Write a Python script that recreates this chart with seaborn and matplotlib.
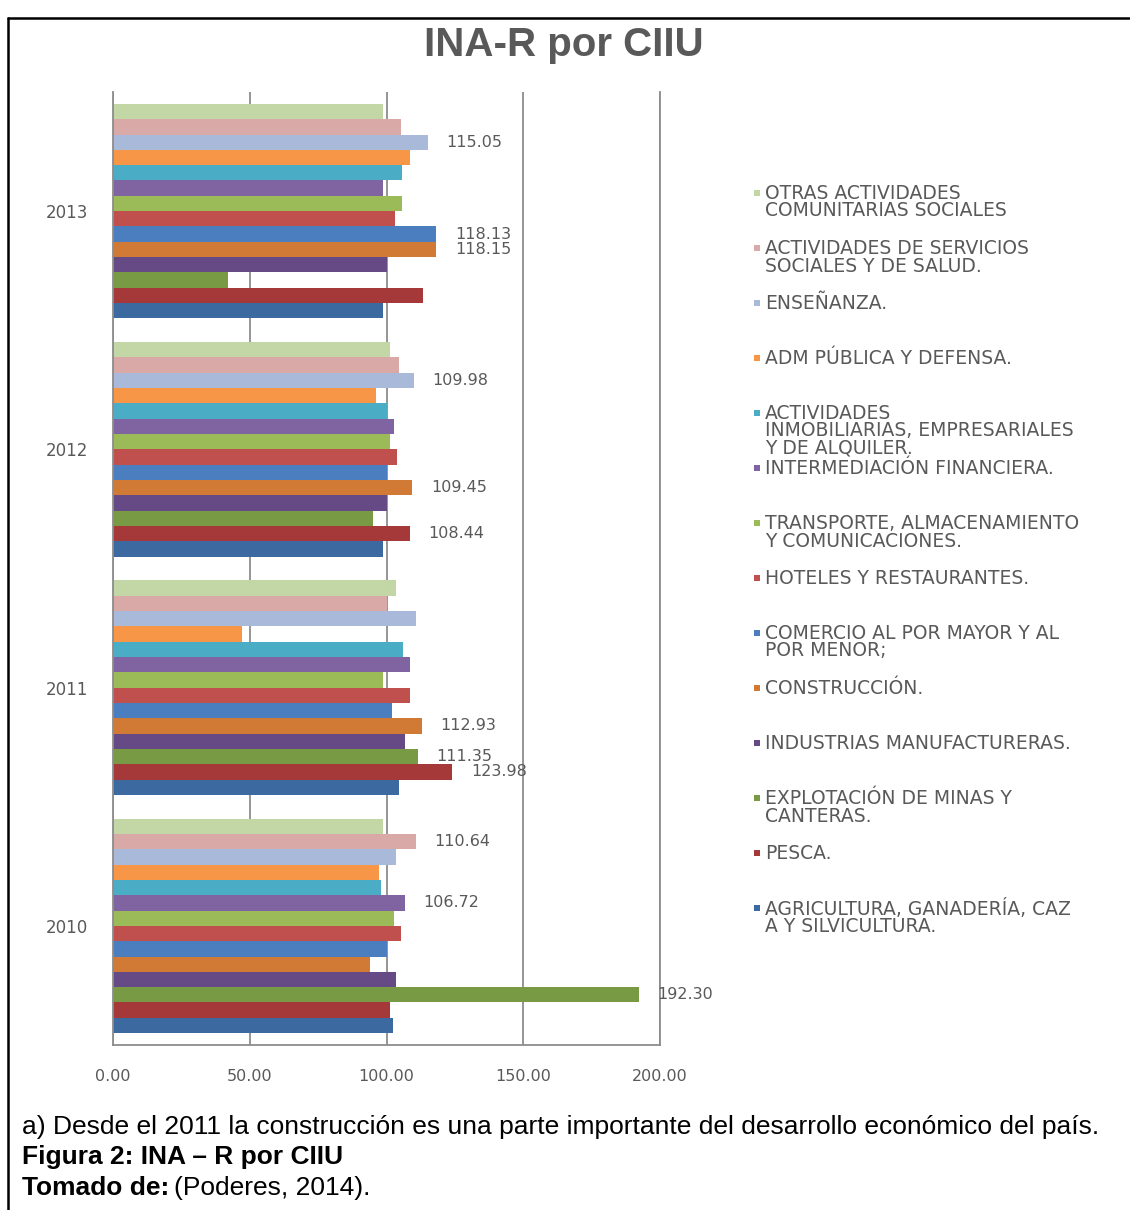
import matplotlib
matplotlib.use("Agg")
import matplotlib.pyplot as plt
from matplotlib.patches import Rectangle
from matplotlib.lines import Line2D
import numpy as np
import pandas as pd
import seaborn as sns

# ---------------------------------------------------------------- data
years = ["2010", "2011", "2012", "2013"]

# sector names (legend text, wrapped as printed), listed top to bottom
sectors = [
    "OTRAS ACTIVIDADES\nCOMUNITARIAS SOCIALES",
    "ACTIVIDADES DE SERVICIOS\nSOCIALES Y DE SALUD.",
    "ENSEÑANZA.",
    "ADM PÚBLICA Y DEFENSA.",
    "ACTIVIDADES\nINMOBILIARIAS, EMPRESARIALES\nY DE ALQUILER.",
    "INTERMEDIACIÓN FINANCIERA.",
    "TRANSPORTE, ALMACENAMIENTO\nY COMUNICACIONES.",
    "HOTELES Y RESTAURANTES.",
    "COMERCIO AL POR MAYOR Y AL\nPOR MENOR;",
    "CONSTRUCCIÓN.",
    "INDUSTRIAS MANUFACTURERAS.",
    "EXPLOTACIÓN DE MINAS Y\nCANTERAS.",
    "PESCA.",
    "AGRICULTURA, GANADERÍA, CAZ\nA Y SILVICULTURA.",
]

# INA-R values per sector, in the order of `years`
otras          = [98.8, 103.5, 101.3, 98.7]
serv_sociales  = [110.64, 100.3, 104.4, 105.3]
ensenanza      = [103.6, 110.8, 109.98, 115.05]
adm_publica    = [97.3, 47.0, 96.2, 108.6]
inmobiliarias  = [98.1, 106.2, 100.0, 105.5]
intermediacion = [106.72, 108.6, 102.9, 98.8]
transporte     = [102.9, 98.8, 101.3, 105.5]
hoteles        = [105.3, 108.6, 103.7, 103.1]
comercio       = [100.3, 102.1, 100.0, 118.13]
construccion   = [94.1, 112.93, 109.45, 118.15]
industrias     = [103.6, 106.8, 100.3, 100.3]
minas          = [192.30, 111.35, 94.9, 42.2]
pesca          = [101.1, 123.98, 108.44, 113.2]
agricultura    = [102.2, 104.6, 98.8, 98.8]

series = [otras, serv_sociales, ensenanza, adm_publica, inmobiliarias,
          intermediacion, transporte, hoteles, comercio, construccion,
          industrias, minas, pesca, agricultura]

colors = ["#C3D6A6", "#D9A9A8", "#A8B9DA", "#F79646", "#4BACC6",
          "#8064A2", "#9BBB59", "#C0504D", "#4A7EBF", "#D07A35",
          "#654A86", "#789A45", "#A5393A", "#3C6AA0"]

# bars carrying a value label: (year, sector index)
labelled = [("2013", 2), ("2013", 8), ("2013", 9),
            ("2012", 2), ("2012", 9), ("2012", 12),
            ("2011", 9), ("2011", 11), ("2011", 12),
            ("2010", 1), ("2010", 5), ("2010", 11)]

x_ticks = [0, 50, 100, 150, 200]

rows = []
for name, vals in zip(sectors, series):
    for y, v in zip(years, vals):
        rows.append({"anio": y, "sector": name, "valor": v})
df = pd.DataFrame(rows)

# ---------------------------------------------------------------- layout
W, H = 1130, 1210
sns.set_theme(style="white")
plt.rcParams["font.family"] = ["DejaVu Sans"]

fig = plt.figure(figsize=(W / 100, H / 100), dpi=100)
fig.patch.set_facecolor("white")


def fx(px):
    return px / W


def fy(py):
    return 1 - py / H


ax = fig.add_axes([fx(113), fy(1045), fx(660) - fx(113), fy(92) - fy(1045)])

sns.barplot(data=df, x="valor", y="anio", hue="sector",
            order=years[::-1], hue_order=sectors,
            palette=dict(zip(sectors, colors)), orient="h",
            width=0.9, saturation=1, errorbar=None, linewidth=0,
            legend=False, ax=ax)

grey_txt = "#595959"
grid_col = "#8C8C8C"

ax.set_xlim(0, 200)
ax.set_xticks(x_ticks)
ax.set_xticklabels([f"{t:.2f}" for t in x_ticks])
ax.xaxis.grid(True, color=grid_col, lw=1.3)
ax.yaxis.grid(False)
ax.set_axisbelow(True)
ax.set_xlabel("")
ax.set_ylabel("")
for side in ["left", "bottom", "right"]:
    ax.spines[side].set_color(grid_col)
    ax.spines[side].set_linewidth(1.3)
ax.spines["top"].set_visible(False)
ax.tick_params(axis="x", length=0, pad=17, labelsize=11.5, labelcolor=grey_txt)
ax.tick_params(axis="y", length=0, pad=18, labelsize=12, labelcolor=grey_txt)

# value labels next to selected bars
order = years[::-1]
for year, si in labelled:
    v = series[si][years.index(year)]
    yi = order.index(year)
    for p in ax.patches:
        yc = p.get_y() + p.get_height() / 2
        if abs(yc - yi) < 0.5 and np.isclose(p.get_width(), v):
            ax.annotate(f"{v:.2f}", (p.get_width(), yc), xytext=(13.5, 0),
                        textcoords="offset points", va="center", ha="left",
                        fontsize=11.5, color=grey_txt, annotation_clip=False)
            break

# title
fig.text(fx(564), fy(45), "INA-R por CIIU", ha="center", va="center",
         fontsize=29, fontweight="bold", color=grey_txt,
         family="Liberation Sans")

# legend
leg_y0, leg_step = 193, 55
for i, (name, col) in enumerate(zip(sectors, colors)):
    yc = leg_y0 + i * leg_step
    fig.add_artist(Rectangle((fx(754), fy(yc + 3)), fx(6), fy(yc - 3) - fy(yc + 3),
                             transform=fig.transFigure, facecolor=col,
                             edgecolor="none"))
    fig.text(fx(765), fy(yc - 9), name, ha="left", va="top", fontsize=13.5,
             color=grey_txt, linespacing=0.9)

# caption
cap_kw = dict(family="Liberation Sans", fontsize=19, color="black",
              ha="left", va="center")
fig.text(fx(22), fy(1127),
         "a) Desde el 2011 la construcción es una parte importante del "
         "desarrollo económico del país.", **cap_kw)
fig.text(fx(22), fy(1157), "Figura 2: INA – R por CIIU",
         fontweight="bold", **cap_kw)
t_bold = fig.text(fx(22), fy(1188), "Tomado de:", fontweight="bold", **cap_kw)
fig.canvas.draw()
bb = t_bold.get_window_extent()
fig.text(bb.x1 / W + fx(5), fy(1188), "(Poderes, 2014).", **cap_kw)

# frame lines
fig.add_artist(Line2D([fx(8), 1], [fy(18), fy(18)], transform=fig.transFigure,
                      color="black", lw=1.8))
fig.add_artist(Line2D([fx(8), fx(8)], [fy(18), 0], transform=fig.transFigure,
                      color="black", lw=1.8))

fig.savefig("out.png", dpi=100)
